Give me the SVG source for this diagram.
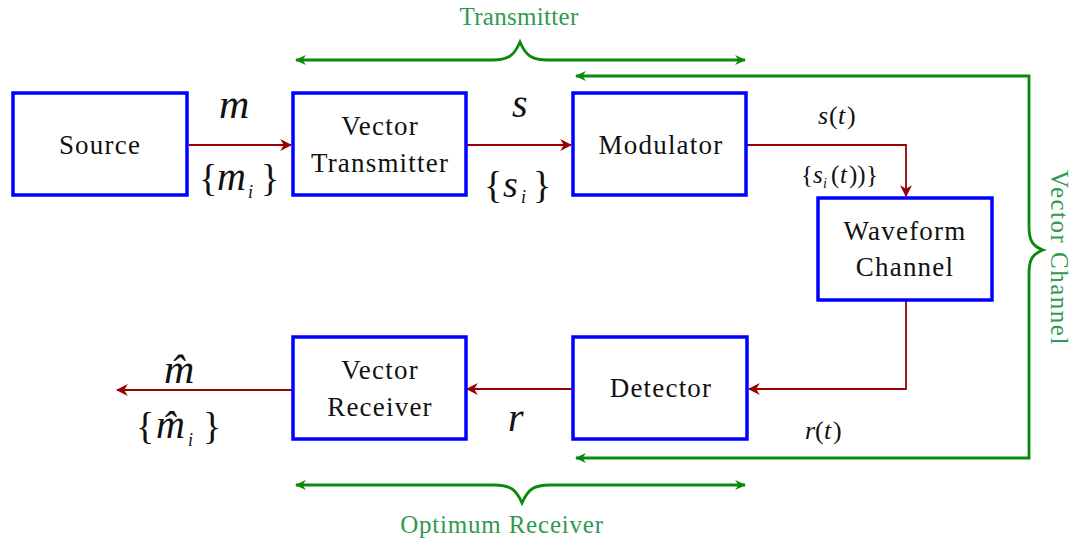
<svg xmlns="http://www.w3.org/2000/svg" width="1073" height="542" viewBox="0 0 1073 542">
  <style>
    .box { fill: #ffffff; stroke: #0000ff; stroke-width: 3.5; }
    .serif { font-family: "Liberation Serif", "DejaVu Serif", "Times New Roman", serif; }
    .lbl { font-size: 27px; fill: #111111; text-anchor: middle; letter-spacing: 1.2px; }
    .math { font-style: italic; fill: #111111; }
    .mathup { fill: #111111; }
    .sig { fill: none; stroke: #990000; stroke-width: 1.8; }
    .grp { fill: none; stroke: #0a8a0a; stroke-width: 2.8; }
    .gtxt { font-size: 25px; fill: #2e9a50; text-anchor: middle; }
  </style>
  <defs>
    <marker id="redArrow" viewBox="0 0 10 10" refX="9" refY="5" markerWidth="12" markerHeight="12" markerUnits="userSpaceOnUse" orient="auto-start-reverse">
      <path d="M0,0 L10,5 L0,10 L3,5 Z" fill="#990000"/>
    </marker>
    <marker id="greenArrow" viewBox="0 0 10 10" refX="9" refY="5" markerWidth="11" markerHeight="11" markerUnits="userSpaceOnUse" orient="auto-start-reverse">
      <path d="M0,0.5 L10,5 L0,9.5 L3,5 Z" fill="#0a8a0a"/>
    </marker>
  </defs>

  <!-- signal connectors -->
  <g id="connectors">
    <line class="sig" x1="189" y1="145" x2="291" y2="145" marker-end="url(#redArrow)"/>
    <line class="sig" x1="467" y1="145" x2="571" y2="145" marker-end="url(#redArrow)"/>
    <polyline class="sig" points="747,145 906,145 906,196" marker-end="url(#redArrow)"/>
    <polyline class="sig" points="906,301 906,389 749,389" marker-end="url(#redArrow)"/>
    <line class="sig" x1="572" y1="389" x2="467" y2="389" marker-end="url(#redArrow)"/>
    <line class="sig" x1="292" y1="390" x2="117" y2="390" marker-end="url(#redArrow)"/>
  </g>

  <!-- blocks -->
  <g id="source" class="serif">
    <rect class="box" x="13" y="93" width="174" height="102"/>
    <text class="lbl" x="100" y="154">Source</text>
  </g>
  <g id="vector-transmitter" class="serif">
    <rect class="box" x="293" y="93" width="173" height="102"/>
    <text class="lbl" x="380" y="135">Vector</text>
    <text class="lbl" x="380" y="172">Transmitter</text>
  </g>
  <g id="modulator" class="serif">
    <rect class="box" x="573" y="93" width="173" height="102"/>
    <text class="lbl" x="661" y="154">Modulator</text>
  </g>
  <g id="waveform-channel" class="serif">
    <rect class="box" x="818" y="198" width="174" height="102"/>
    <text class="lbl" x="905" y="240">Waveform</text>
    <text class="lbl" x="905" y="276">Channel</text>
  </g>
  <g id="detector" class="serif">
    <rect class="box" x="573" y="337" width="174" height="102"/>
    <text class="lbl" x="661" y="397">Detector</text>
  </g>
  <g id="vector-receiver" class="serif">
    <rect class="box" x="293" y="337" width="173" height="102"/>
    <text class="lbl" x="380" y="379">Vector</text>
    <text class="lbl" x="380" y="416">Receiver</text>
  </g>

  <!-- signal labels -->
  <g id="signal-labels" class="serif">
    <text class="math" x="219" y="118" font-size="42">m</text>
    <text class="mathup" x="199" y="191" font-size="38">{</text>
    <text class="math" x="217" y="190" font-size="40">m</text>
    <text class="math" x="248" y="198" font-size="18">i</text>
    <text class="mathup" x="261" y="191" font-size="38">}</text>

    <text class="math" x="512" y="117" font-size="40">s</text>
    <text class="mathup" x="484" y="198" font-size="38">{</text>
    <text class="math" x="503" y="197" font-size="38">s</text>
    <text class="math" x="521" y="203" font-size="18">i</text>
    <text class="mathup" x="533" y="198" font-size="38">}</text>

    <text class="math" x="818" y="124" font-size="26">s</text>
    <text class="mathup" x="829" y="124" font-size="26">(</text>
    <text class="math" x="838" y="124" font-size="26">t</text>
    <text class="mathup" x="847" y="124" font-size="26">)</text>

    <text class="mathup" x="801" y="183" font-size="25">{</text>
    <text class="math" x="813" y="183" font-size="25">s</text>
    <text class="math" x="823" y="188" font-size="14">i</text>
    <text class="mathup" x="831" y="183" font-size="25">(</text>
    <text class="math" x="840" y="183" font-size="25">t</text>
    <text class="mathup" x="849" y="183" font-size="25">))</text>
    <text class="mathup" x="866" y="183" font-size="25">}</text>

    <text class="math" x="805" y="439" font-size="26">r</text>
    <text class="mathup" x="815" y="439" font-size="26">(</text>
    <text class="math" x="824" y="439" font-size="26">t</text>
    <text class="mathup" x="833" y="439" font-size="26">)</text>

    <text class="math" x="508" y="431" font-size="40">r</text>

    <text class="math" x="164" y="383" font-size="42">m&#x302;</text>
    <text class="mathup" x="136" y="439" font-size="38">{</text>
    <text class="math" x="156" y="438" font-size="40">m&#x302;</text>
    <text class="math" x="188" y="446" font-size="18">i</text>
    <text class="mathup" x="203" y="439" font-size="38">}</text>
  </g>

  <!-- transmitter grouping -->
  <g id="transmitter-span" class="serif">
    <path class="grp" d="M296,60 L492,60 C508,60 514,56 520,42 C526,56 532,60 548,60 L745,60" marker-start="url(#greenArrow)" marker-end="url(#greenArrow)"/>
    <text class="gtxt" x="519" y="25" letter-spacing="0.3">Transmitter</text>
  </g>

  <!-- optimum receiver grouping -->
  <g id="receiver-span" class="serif">
    <path class="grp" d="M296,485 L494,485 C510,485 516,489 522,503 C528,489 534,485 550,485 L745,485" marker-start="url(#greenArrow)" marker-end="url(#greenArrow)"/>
    <text class="gtxt" x="502" y="533" letter-spacing="0.8">Optimum Receiver</text>
  </g>

  <!-- vector channel grouping -->
  <g id="vector-channel-span" class="serif">
    <path class="grp" d="M576,76 L1029,76 L1029,226 C1029,240 1032,246 1043,250 C1032,254 1029,260 1029,274 L1029,458 L576,458" marker-start="url(#greenArrow)" marker-end="url(#greenArrow)"/>
    <text class="gtxt" transform="translate(1051,258) rotate(90)" x="0" y="0" font-size="26" letter-spacing="1.5">Vector Channel</text>
  </g>
</svg>
